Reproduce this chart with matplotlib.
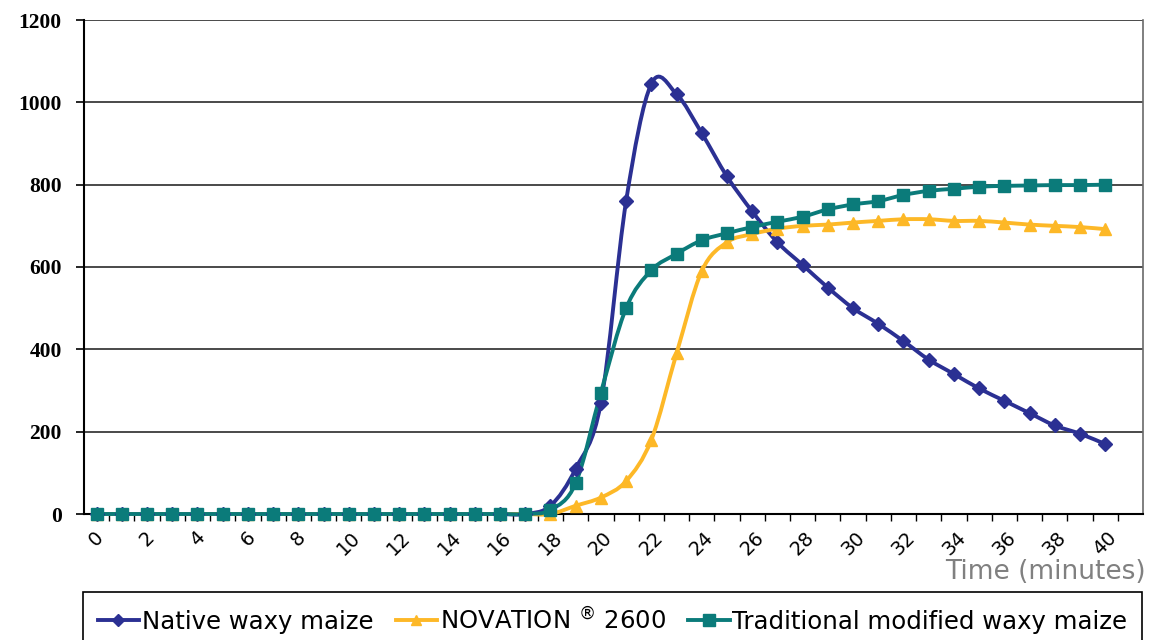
import numpy as np
from matplotlib import pyplot
from matplotlib.path import Path
from matplotlib.patches import PathPatch

# time axis, one reading per minute
minutes = list(range(0, 41))

native = [0] * 18 + [20, 110, 270, 760, 1045, 1020, 925, 820, 735, 660, 605, 550, 500,
                     462, 420, 375, 340, 305, 275, 245, 215, 195, 170]
novation = [0] * 19 + [20, 40, 80, 180, 390, 590, 660, 680, 693, 700, 703, 708, 712,
                       716, 716, 712, 712, 708, 703, 700, 697, 692]
traditional = [0] * 18 + [10, 75, 295, 500, 592, 632, 665, 682, 697, 710, 722, 740, 752,
                          760, 775, 785, 790, 795, 797, 798, 799, 799, 800]

names = ['Native waxy maize', r'NOVATION $^{\circledR}$ 2600', 'Traditional modified waxy maize']
colors = ['#2B3093', '#FDB827', '#0B7B7A']
markers = ['D', '^', 's']
msizes = [7, 8, 9]


# smooth line through points (catmull-rom as cubic bezier, like excel "smoothed line")
def smooth_path(x, y):
    p = np.column_stack([x, y]).astype(float)
    verts = [p[0]]
    codes = [Path.MOVETO]
    n = len(p)
    for i in range(n - 1):
        p0 = p[i - 1] if i > 0 else p[i]
        p3 = p[i + 2] if i + 2 < n else p[i + 1]
        c1 = p[i] + (p[i + 1] - p0) / 6.0
        c2 = p[i + 1] - (p3 - p[i]) / 6.0
        verts += [c1, c2, p[i + 1]]
        codes += [Path.CURVE4] * 3
    return Path(verts, codes)


fig = pyplot.figure(figsize=(11.51, 6.4), dpi=100)
axes = fig.add_axes([84 / 1151, 1 - 514 / 640, (1143 - 84) / 1151, (514 - 20) / 640])

handles = []
for data, name, c, m, ms in zip([native, novation, traditional], names, colors, markers, msizes):
    patch = PathPatch(smooth_path(minutes, data), facecolor='none', edgecolor=c, lw=2.8,
                      clip_on=False, zorder=3)
    axes.add_patch(patch)
    h, = axes.plot(minutes, data, linestyle='none', marker=m, markersize=ms, color=c,
                   clip_on=False, zorder=4)
    # legend handle with line + marker
    lh, = axes.plot([], [], color=c, lw=2.8, marker=m, markersize=ms - 1, label=name)
    handles.append(lh)

axes.set_xlim(-0.5, 41.5)
axes.set_ylim(0, 1200)
axes.set_yticks(range(0, 1201, 200))
axes.yaxis.grid(True, color='#4a4a4a', lw=1.4)
axes.set_axisbelow(True)
for lab in axes.get_yticklabels():
    lab.set_fontfamily('Liberation Serif')
    lab.set_fontweight('bold')
    lab.set_fontsize(15.5)
axes.tick_params(axis='y', length=6, width=1.2, pad=10)

axes.set_xticks(minutes[::2])
axes.set_xticklabels([str(v) for v in minutes[::2]], rotation=45, ha='center', fontsize=14)
axes.set_xticks(np.arange(0.5, 41.5, 1.0), minor=True)
axes.tick_params(axis='x', which='major', length=0, pad=10)
axes.tick_params(axis='x', which='minor', length=5, width=1.0)

axes.spines['top'].set_visible(False)
axes.spines['left'].set_linewidth(1.5)
axes.spines['bottom'].set_linewidth(1.5)
axes.spines['right'].set_color('#6a6a6a')
axes.spines['right'].set_linewidth(1.2)

fig.text(1146 / 1151, 1 - 572 / 640, 'Time (minutes)', ha='right', va='center',
         fontsize=19, color='#808080')

leg = fig.legend(handles=handles, loc='upper left',
                 bbox_to_anchor=(83 / 1151, 1 - 592 / 640, (1142 - 83) / 1151, 0.0),
                 mode='expand', borderaxespad=0,
                 ncol=3, fontsize=17.6, frameon=True, fancybox=False, edgecolor='black',
                 framealpha=1, handlelength=1.7, handletextpad=0.1, columnspacing=0.3,
                 borderpad=0.6)
leg.get_frame().set_linewidth(1.2)

pyplot.savefig('out.png', dpi=100)
